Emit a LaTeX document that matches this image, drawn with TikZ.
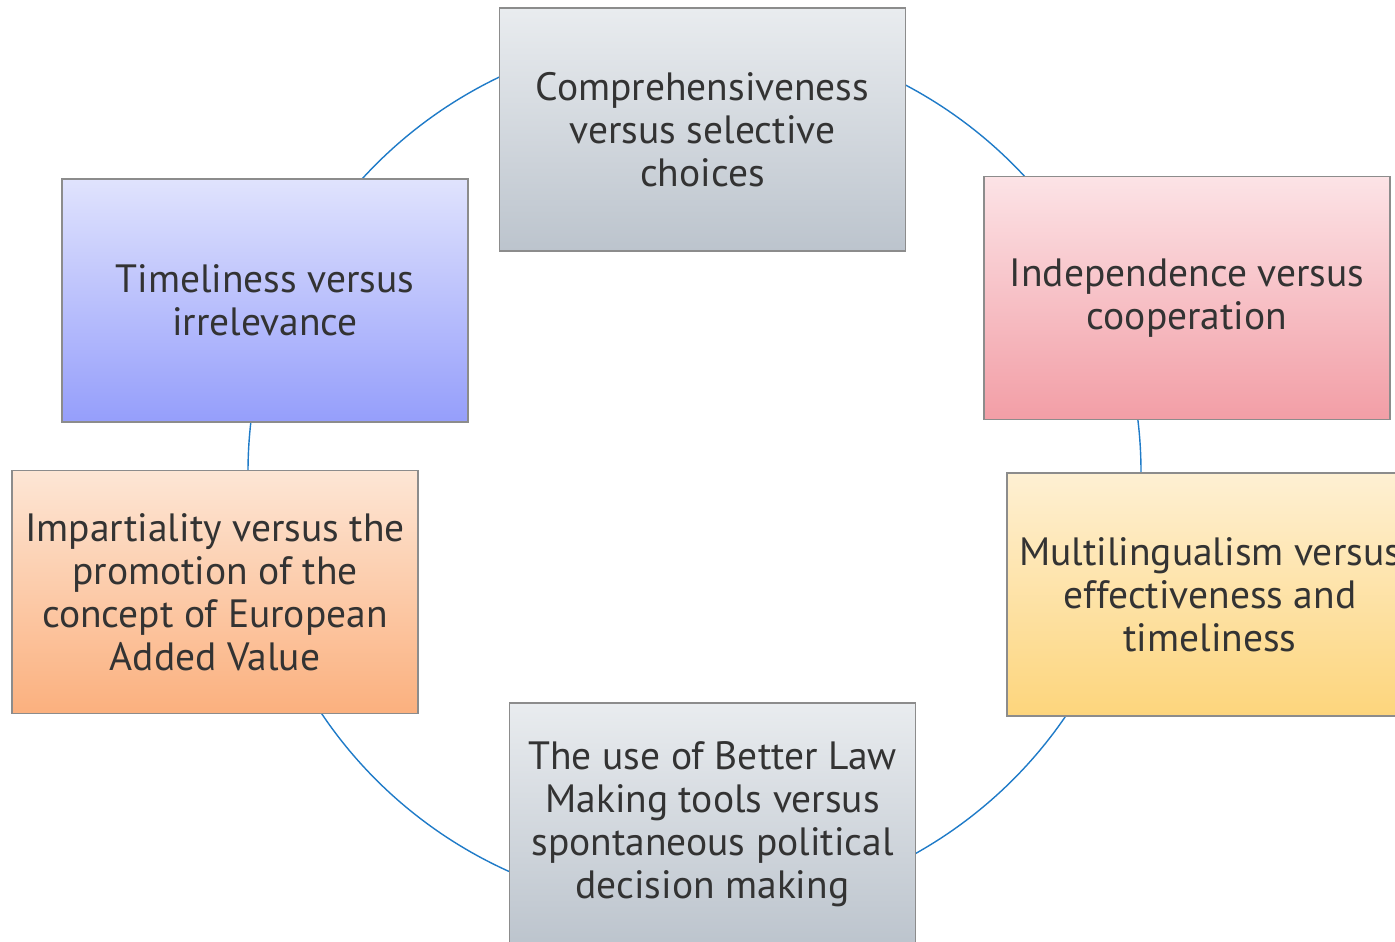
\documentclass[tikz,border=0pt]{standalone}
\usepackage{fontspec}
\setmainfont{PT Sans}
\begin{document}
\begin{tikzpicture}[x=1pt,y=-1pt,
  box/.style={draw=black!45, line width=1.2pt, minimum width=406pt, minimum height=243pt,
    inner sep=0pt, align=center, text=black!80, font=\fontsize{39.5}{43}\selectfont},
  gray box/.style={box, top color=gbT, bottom color=gbB},
  blue box/.style={box, top color=blT, bottom color=blB},
  pink box/.style={box, top color=pkT, bottom color=pkB},
  peach box/.style={box, top color=peT, bottom color=peB},
  yellow box/.style={box, top color=yeT, bottom color=yeB},
  ring/.style={draw=ringc, line width=1.4pt}]
\definecolor{gbT}{HTML}{E9ECEF}\definecolor{gbB}{HTML}{BCC4CD}
\definecolor{blT}{HTML}{E0E3FD}\definecolor{blB}{HTML}{959EFB}
\definecolor{pkT}{HTML}{FCE3E6}\definecolor{pkB}{HTML}{F29EA6}
\definecolor{peT}{HTML}{FDE6D5}\definecolor{peB}{HTML}{FBB07E}
\definecolor{yeT}{HTML}{FEF0D3}\definecolor{yeB}{HTML}{FDD57C}
\definecolor{ringc}{HTML}{1F7BC8}
\useasboundingbox (0,0) rectangle (1395,942);
\clip (0,0) rectangle (1395,942);
\fill[white] (0,0) rectangle (1395,942);
\draw[ring] (694.5,472) ellipse [x radius=446.5, y radius=439];
\node[gray box] (n1) at (702.5,129.5) {Comprehensiveness\\versus selective\\choices};
\node[pink box] (n2) at (1187,298) {Independence versus\\cooperation};
\node[yellow box] (n3) at (1210,594.5) {Multilingualism versus\\effectiveness and\\timeliness};
\node[gray box] (n4) at (712.5,824.5) {The use of Better Law\\Making tools versus\\spontaneous political\\decision making};
\node[peach box] (n5) at (215,592) {Impartiality versus the\\promotion of the\\concept of European\\Added Value};
\node[blue box] (n6) at (265,300.5) {Timeliness versus\\irrelevance};
\end{tikzpicture}
\end{document}
